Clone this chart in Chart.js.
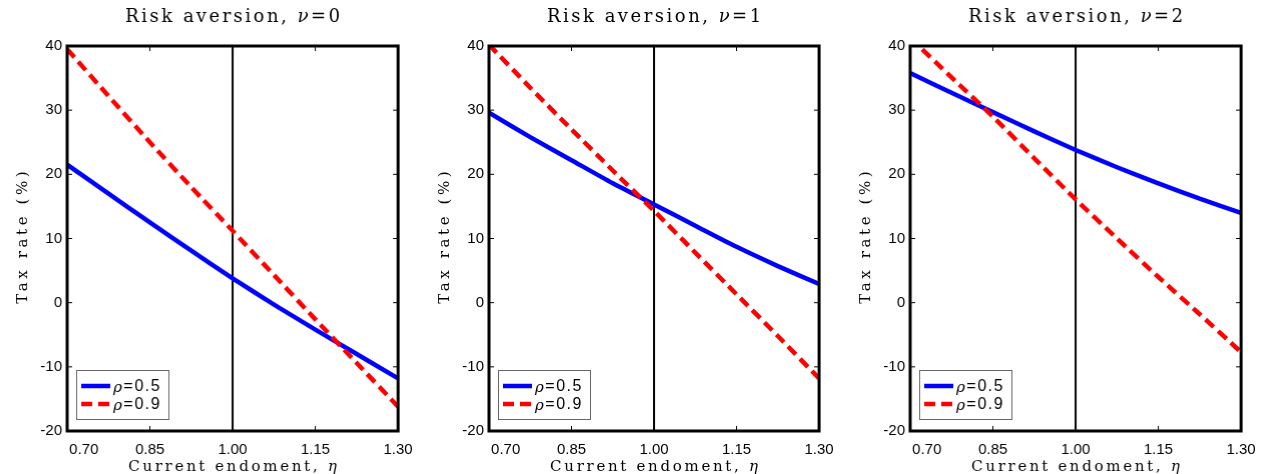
<!DOCTYPE html>
<html>
<head>
<meta charset="utf-8">
<script src="https://cdn.jsdelivr.net/npm/chart.js@4/dist/chart.umd.min.js"></script>
<style>
  body { margin: 0; background: #fff; }
  .row { display: flex; width: 1265px; height: 474px; }
  .panel { position: relative; width: calc(1265px / 3); height: 474px; }
</style>
</head>
<body>
<div class="row">
  <div class="panel"><canvas id="c0"></canvas></div>
  <div class="panel"><canvas id="c1"></canvas></div>
  <div class="panel"><canvas id="c2"></canvas></div>
</div>
<script>
// current endowment, eta
const eta = [0.70, 0.775, 0.85, 0.925, 1.00, 1.075, 1.15, 1.225, 1.30];
const xTicks = [0.70, 0.85, 1.00, 1.15, 1.30];
const nuValues = ["0", "1", "2"];
const seriesNames = ["0.5", "0.9"];

// tax rate (%) for rho = 0.5
const rho05Nu0 = [21.5, 17.0, 12.5, 8.1, 3.8, -0.3, -4.2, -8.0, -11.8];
const rho05Nu1 = [29.6, 25.8, 22.2, 18.6, 15.3, 12.0, 8.7, 5.7, 2.9];
const rho05Nu2 = [35.8, 32.7, 29.7, 26.7, 23.8, 21.1, 18.6, 16.2, 14.0];

// tax rate (%) for rho = 0.9
const rho09Nu0 = [39.5, 32.2, 25.0, 18.0, 11.2, 4.3, -2.6, -9.4, -16.2];
const rho09Nu1 = [40.2, 33.5, 27.0, 20.6, 14.3, 7.8, 1.3, -5.2, -11.8];
const rho09Nu2 = [41.3, 35.1, 29.0, 22.5, 16.1, 10.0, 4.0, -1.8, -7.7];

const panels = [
  [rho05Nu0, rho09Nu0],
  [rho05Nu1, rho09Nu1],
  [rho05Nu2, rho09Nu2],
];

const serif = "'DejaVu Serif', 'Liberation Serif', serif";
const sans = "'Liberation Sans', Arial, sans-serif";

// draw text made of runs (some italic), centred on x
function drawRuns(ctx, runs, x, y, size, family, spacing) {
  ctx.letterSpacing = spacing + "px";
  const fonts = runs.map(r => (r.it ? "italic " : "") + size + "px " + family);
  const widths = runs.map((r, i) => { ctx.font = fonts[i]; return ctx.measureText(r.t).width; });
  const total = widths.reduce((a, b) => a + b, 0) - spacing;
  let cx = x - total / 2;
  ctx.textAlign = "left";
  runs.forEach((r, i) => {
    ctx.font = fonts[i];
    ctx.fillText(r.t, cx, y);
    cx += widths[i];
  });
  ctx.letterSpacing = "0px";
}

// titles, box, inward tick marks
const frame = {
  id: "frame",
  afterDatasetsDraw(chart) {
    const { ctx, chartArea: a, scales } = chart;
    ctx.save();
    ctx.strokeStyle = "#000";
    ctx.lineWidth = 1;
    ctx.beginPath();
    scales.x.ticks.forEach(t => {
      const px = scales.x.getPixelForValue(t.value);
      ctx.moveTo(px, a.bottom); ctx.lineTo(px, a.bottom - 5);
      ctx.moveTo(px, a.top); ctx.lineTo(px, a.top + 5);
    });
    scales.y.ticks.forEach(t => {
      const py = scales.y.getPixelForValue(t.value);
      ctx.moveTo(a.left, py); ctx.lineTo(a.left + 5, py);
      ctx.moveTo(a.right, py); ctx.lineTo(a.right - 5, py);
    });
    ctx.stroke();
    ctx.lineWidth = 3;
    ctx.strokeRect(a.left, a.top, a.right - a.left, a.bottom - a.top);

    const midX = (a.left + a.right) / 2;
    const midY = (a.top + a.bottom) / 2;
    ctx.fillStyle = "#000";
    ctx.textBaseline = "alphabetic";
    const nu = chart.options.plugins.frame.nu;
    drawRuns(ctx, [{ t: "Risk aversion, " }, { t: "\u03bd", it: true }, { t: "=" + nu }], midX, 22, 18, serif, 2.5);
    drawRuns(ctx, [{ t: "Current endoment, " }, { t: "\u03b7", it: true }], midX, 471, 15, serif, 2.7);
    ctx.save();
    ctx.translate(27, midY - 1);
    ctx.rotate(-Math.PI / 2);
    drawRuns(ctx, [{ t: "Tax rate (%)" }], 0, 0, 15, serif, 3.6);
    ctx.restore();
    ctx.restore();
  }
};

// legend box in lower-left corner of the plot
const boxLegend = {
  id: "boxLegend",
  afterDraw(chart) {
    const { ctx, chartArea: a } = chart;
    const w = 92, h = 49;
    const left = a.left + 9, top = a.bottom - 12 - h;
    ctx.save();
    ctx.fillStyle = "#fff";
    ctx.fillRect(left, top, w, h);
    ctx.strokeStyle = "#666";
    ctx.lineWidth = 1;
    ctx.strokeRect(left + 0.5, top + 0.5, w, h);
    const rows = [chart.data.datasets[1], chart.data.datasets[0]];
    rows.forEach((ds, i) => {
      const y = top + 16 + i * 18;
      ctx.strokeStyle = ds.borderColor;
      ctx.lineWidth = ds.borderWidth;
      ctx.setLineDash(ds.borderDash || []);
      ctx.beginPath();
      ctx.moveTo(left + 5, y);
      ctx.lineTo(left + 34, y);
      ctx.stroke();
      ctx.setLineDash([]);
      ctx.fillStyle = "#000";
      ctx.textBaseline = "middle";
      ctx.letterSpacing = "1.5px";
      ctx.textAlign = "left";
      ctx.font = "italic 15px " + serif;
      ctx.fillText("\u03c1", left + 37, y + 2);
      const rw = ctx.measureText("\u03c1").width;
      ctx.font = "16px " + sans;
      ctx.fillText("=" + ds.label, left + 37 + rw, y + 1);
      ctx.letterSpacing = "0px";
    });
    ctx.restore();
  }
};

panels.forEach(([low, high], p) => {
  const ctx = document.getElementById("c" + p).getContext("2d");
  new Chart(ctx, {
    type: "line",
    data: {
      datasets: [
        {
          label: seriesNames[1],
          data: eta.map((x, i) => ({ x: x, y: high[i] })),
          borderColor: "#ff0000",
          borderWidth: 4.5,
          borderDash: [11, 6],
          pointRadius: 0,
          tension: 0.2,
        },
        {
          label: seriesNames[0],
          data: eta.map((x, i) => ({ x: x, y: low[i] })),
          borderColor: "#0000ff",
          borderWidth: 4.5,
          pointRadius: 0,
          tension: 0.2,
        },
        {
          label: "eta=1",
          data: [{ x: 1, y: -20 }, { x: 1, y: 40 }],
          borderColor: "#000",
          borderWidth: 2,
          pointRadius: 0,
        },
      ],
    },
    options: {
      responsive: true,
      maintainAspectRatio: false,
      animation: false,
      layout: { padding: { left: 0, right: 24, top: 46, bottom: 0 } },
      plugins: {
        legend: { display: false },
        tooltip: { enabled: false },
        frame: { nu: nuValues[p] },
      },
      scales: {
        x: {
          type: "linear",
          min: 0.7,
          max: 1.3,
          afterBuildTicks: s => { s.ticks = xTicks.map(v => ({ value: v })); },
          afterFit: s => { s.height = 43; },
          grid: { display: false, drawTicks: false },
          border: { display: false },
          ticks: {
            autoSkip: false,
            maxRotation: 0,
            padding: 10,
            color: "#000",
            font: { family: sans, size: 15 },
            callback: (v, i) => (i === 0 ? "        " : "") + Number(v).toFixed(2),
          },
        },
        y: {
          min: -20,
          max: 40,
          afterFit: s => { s.width = 67; },
          grid: { display: false, drawTicks: false },
          border: { display: false },
          ticks: {
            stepSize: 10,
            padding: 5,
            color: "#000",
            font: { family: sans, size: 15 },
          },
        },
      },
    },
    plugins: [frame, boxLegend],
  });
});
</script>
</body>
</html>
